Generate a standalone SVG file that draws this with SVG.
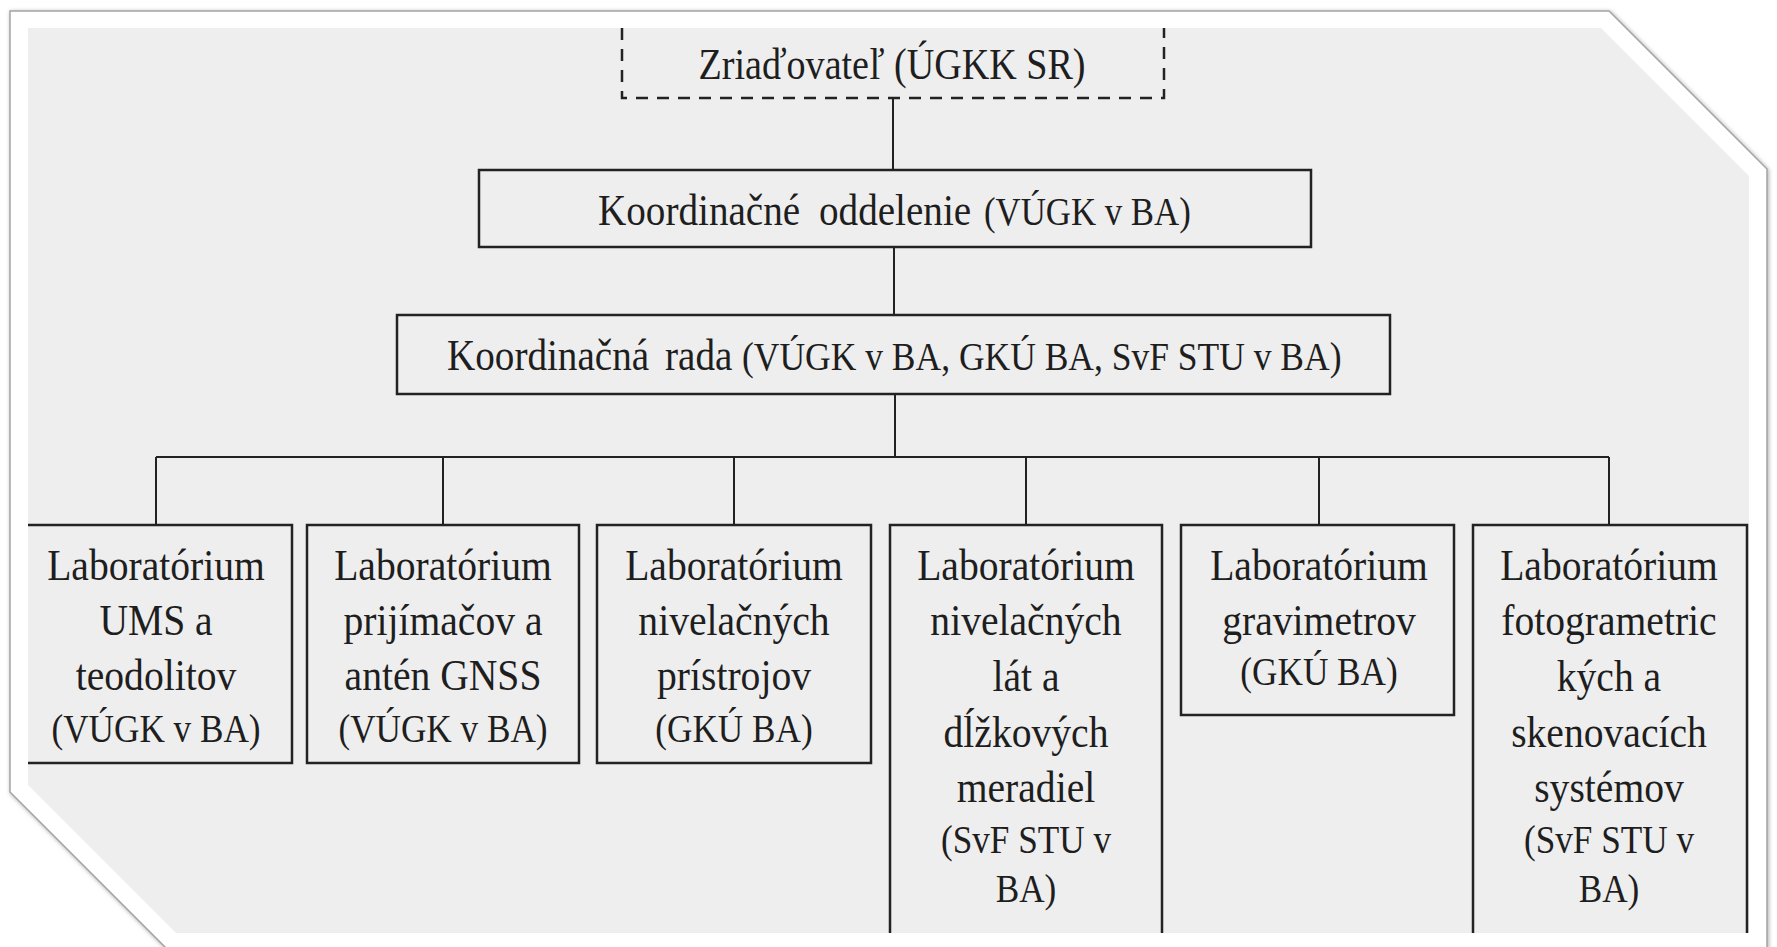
<svg xmlns="http://www.w3.org/2000/svg" width="1777" height="947" viewBox="0 0 1777 947">
<defs>
<filter id="sh" x="-5%" y="-5%" width="110%" height="110%">
<feDropShadow dx="1" dy="1" stdDeviation="2" flood-color="#777" flood-opacity="0.6"/>
</filter>
</defs>
<style>
.box{fill:none;stroke:#222;stroke-width:2.5}
.dash{fill:none;stroke:#222;stroke-width:2.5;stroke-dasharray:12 9}
.ln{fill:none;stroke:#222;stroke-width:2}
.t{font-family:"Liberation Serif","Times New Roman",serif;font-size:45px;fill:#1e1e1e;text-anchor:middle}
.ts{font-family:"Liberation Serif","Times New Roman",serif;font-size:45px;fill:#1e1e1e;text-anchor:start}
.s{font-size:40px}
</style>
<rect width="1777" height="947" fill="#ffffff"/>
<path d="M10,11 H1609 L1767,169 V975 H193 L10,792 Z" fill="#ffffff" stroke="#a5a5a5" stroke-width="1.5" filter="url(#sh)"/>
<path d="M28,28 H1601 L1749,176 V933 H176 L28,785 Z" fill="#eeeeee"/>

<g id="connectors">
<path class="ln" d="M893,98 V170"/>
<path class="ln" d="M894,247 V315"/>
<path class="ln" d="M895,394 V457"/>
<path class="ln" d="M156,457 H1609"/>
<path class="ln" d="M156,457 V525 M443,457 V525 M734,457 V525 M1026,457 V525 M1319,457 V525 M1609,457 V525"/>
</g>

<g id="zriadovatel">
<path class="dash" d="M622,28 V98 H1164 V28"/>
<text class="t" x="892" y="79" textLength="387" lengthAdjust="spacingAndGlyphs">Zriaďovateľ (ÚGKK SR)</text>
</g>

<g id="koord-oddelenie">
<rect class="box" x="479" y="170" width="832" height="77"/>
<text class="ts" transform="scale(0.87 1)" y="225"><tspan x="687.4">Koordinačné</tspan><tspan x="941.4">oddelenie</tspan><tspan x="1131" class="s">(VÚGK v BA)</tspan></text>
</g>

<g id="koord-rada">
<rect class="box" x="397" y="315" width="993" height="79"/>
<text class="ts" transform="scale(0.87 1)" y="370"><tspan x="513.8">Koordinačná</tspan><tspan x="764.4">rada</tspan><tspan x="852.9" font-size="40.8">(VÚGK v BA, GKÚ BA, SvF STU v BA)</tspan></text>
</g>

<g id="lab-ums">
<path class="box" d="M28,525 H292 V763 H28"/>
<g transform="scale(0.88 1)">
<text class="t" x="177.3" y="580">Laboratórium</text>
<text class="t" x="177.3" y="635">UMS a</text>
<text class="t" x="177.3" y="690">teodolitov</text>
<text class="t s" x="177.3" y="742">(VÚGK v BA)</text>
</g>
</g>

<g id="lab-gnss">
<rect class="box" x="307" y="525" width="272" height="238"/>
<g transform="scale(0.88 1)">
<text class="t" x="503.4" y="580">Laboratórium</text>
<text class="t" x="503.4" y="635">prijímačov a</text>
<text class="t" x="503.4" y="690">antén GNSS</text>
<text class="t s" x="503.4" y="742">(VÚGK v BA)</text>
</g>
</g>

<g id="lab-nivelacne-pristroje">
<rect class="box" x="597" y="525" width="274" height="238"/>
<g transform="scale(0.88 1)">
<text class="t" x="834.1" y="580">Laboratórium</text>
<text class="t" x="834.1" y="635">nivelačných</text>
<text class="t" x="834.1" y="690">prístrojov</text>
<text class="t s" x="834.1" y="742">(GKÚ BA)</text>
</g>
</g>

<g id="lab-nivelacne-laty">
<path class="box" d="M890,933 V525 H1162 V933"/>
<g transform="scale(0.88 1)">
<text class="t" x="1165.9" y="580">Laboratórium</text>
<text class="t" x="1165.9" y="635">nivelačných</text>
<text class="t" x="1165.9" y="691">lát a</text>
<text class="t" x="1165.9" y="747">dĺžkových</text>
<text class="t" x="1165.9" y="802">meradiel</text>
<text class="t s" x="1165.9" y="853">(SvF STU v</text>
<text class="t s" x="1165.9" y="902">BA)</text>
</g>
</g>

<g id="lab-gravimetre">
<rect class="box" x="1181" y="525" width="273" height="190"/>
<g transform="scale(0.88 1)">
<text class="t" x="1498.9" y="580">Laboratórium</text>
<text class="t" x="1498.9" y="635">gravimetrov</text>
<text class="t s" x="1498.9" y="685">(GKÚ BA)</text>
</g>
</g>

<g id="lab-fotogrametria">
<path class="box" d="M1473,933 V525 H1747 V933"/>
<g transform="scale(0.88 1)">
<text class="t" x="1828.4" y="580">Laboratórium</text>
<text class="t" x="1828.4" y="635">fotogrametric</text>
<text class="t" x="1828.4" y="691">kých a</text>
<text class="t" x="1828.4" y="747">skenovacích</text>
<text class="t" x="1828.4" y="802">systémov</text>
<text class="t s" x="1828.4" y="853">(SvF STU v</text>
<text class="t s" x="1828.4" y="902">BA)</text>
</g>
</g>
</svg>
